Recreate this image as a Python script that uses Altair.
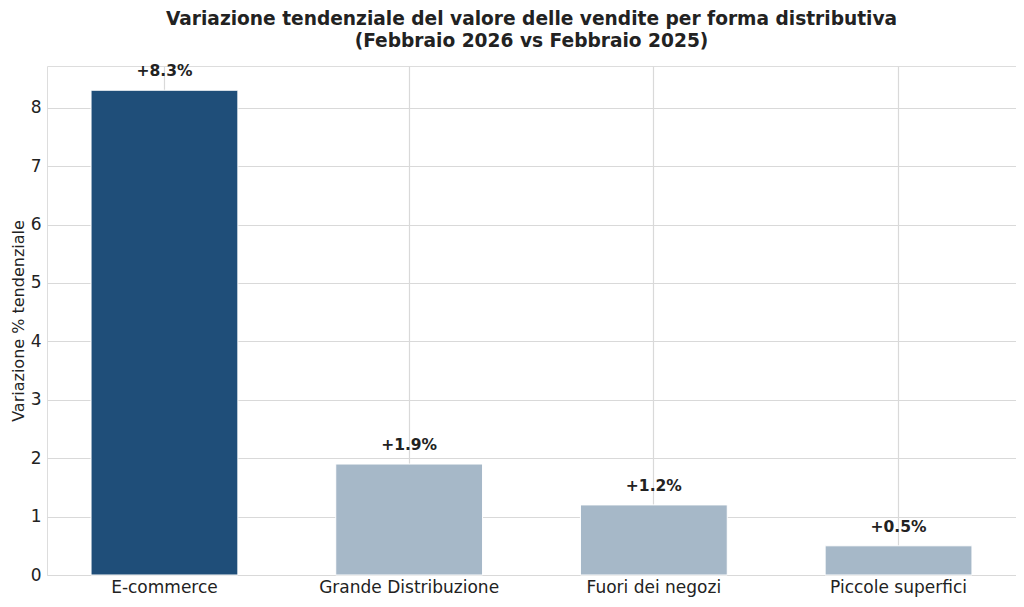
import altair as alt
import pandas as pd

categories = ["E-commerce", "Grande Distribuzione", "Fuori dei negozi", "Piccole superfici"]
values = [8.3, 1.9, 1.2, 0.5]
labels = ["+8.3%", "+1.9%", "+1.2%", "+0.5%"]
colors = ["#1f4e79", "#a6b8c8", "#a6b8c8", "#a6b8c8"]

df = pd.DataFrame({"cat": categories, "val": values, "lab": labels, "col": colors})

FONT = "DejaVu Sans"
GRID = "#d9d9d9"

x = alt.X("cat:N", sort=categories, title=None,
          scale=alt.Scale(paddingInner=0.4, paddingOuter=0.18),
          axis=alt.Axis(labelAngle=0, labelFontSize=17, labelColor="#222222",
                        ticks=False, domain=False, grid=True, gridColor=GRID,
                        gridWidth=1.2, bandPosition=0.5, labelPadding=4, labelFont=FONT))
y = alt.Y("val:Q", title="Variazione % tendenziale",
          scale=alt.Scale(domain=[0, 8.715], nice=False, zero=True),
          axis=alt.Axis(values=list(range(0, 9)), format="d", labelFontSize=17,
                        labelColor="#222222",
                        ticks=False, domain=False, gridColor=GRID, gridWidth=1.2,
                        titleFontSize=16, titleFontWeight="normal", titleColor="#222222",
                        titlePadding=4, labelPadding=6, labelFont=FONT, titleFont=FONT))

bars = alt.Chart(df).mark_bar(stroke="white", strokeWidth=1).encode(
    x=x, y=y, color=alt.Color("col:N", scale=None)
)

text = alt.Chart(df).mark_text(dy=-11, baseline="bottom", fontSize=15.5, fontWeight="bold",
                               color="#222222", font=FONT).encode(
    x=alt.X("cat:N", sort=categories), y="val:Q", text="lab:N"
)

chart = (bars + text).properties(
    width=969, height=509,
    title=alt.TitleParams(
        ["Variazione tendenziale del valore delle vendite per forma distributiva",
         "(Febbraio 2026 vs Febbraio 2025)"],
        fontSize=18.6, fontWeight="bold", color="#222222", font=FONT,
        anchor="middle", offset=14, lineHeight=22),
    autosize=alt.AutoSizeParams(type="none"),
    padding={"left": 39, "top": 58, "right": 0, "bottom": 24},
).configure_view(stroke="#cccccc", strokeWidth=1).configure(background="white")

chart.save("out.html", embed_options={"renderer": "svg", "actions": False})
